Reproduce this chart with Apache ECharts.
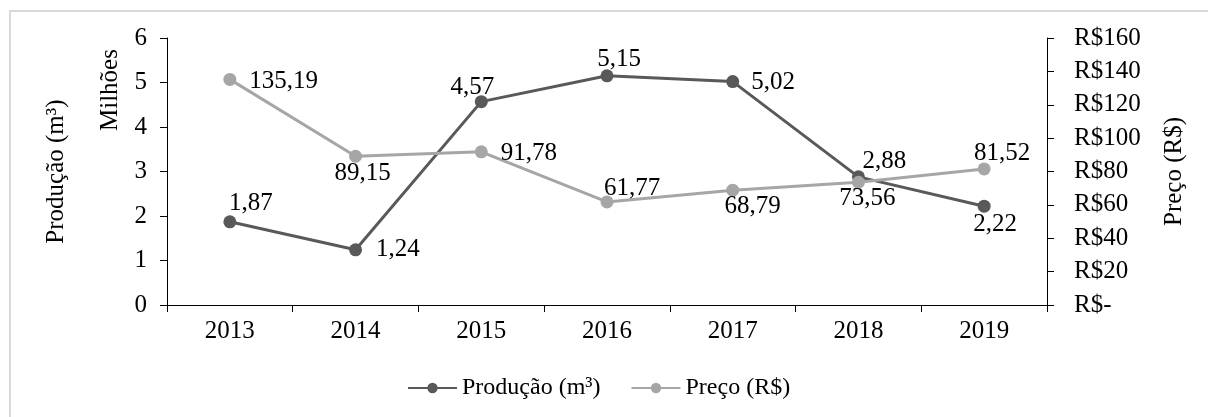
<!DOCTYPE html>
<html>
<head>
<meta charset="utf-8">
<script src="https://cdn.jsdelivr.net/npm/echarts@6/dist/echarts.min.js"></script>
<style>
  html, body { margin: 0; padding: 0; background: #fff; }
  #chart { width: 1208px; height: 417px; }
</style>
</head>
<body>
<div id="chart"></div>
<script>
// dados
var anos = ['2013', '2014', '2015', '2016', '2017', '2018', '2019']
var producao = [1.87, 1.24, 4.57, 5.15, 5.02, 2.88, 2.22] // milhões de m³
var preco = [135.19, 89.15, 91.78, 61.77, 68.79, 73.56, 81.52] // R$

// posição e deslocamento dos rótulos de cada ponto
var posProducao = ['top', 'right', 'top', 'top', 'right', 'top', 'bottom']
var despProducao = [[21, 1], [14, 0], [-9, 5], [12, 3], [12, 1], [26, 4], [11, -1]]
var posPreco = ['right', 'bottom', 'right', 'top', 'bottom', 'bottom', 'top']
var despPreco = [[13, 2], [7, -2], [13, 2], [25, 6], [20, -3], [9, -3], [18, 3]]

var fonte = '"Liberation Serif", "Times New Roman", serif'
var tam = 25
var corProducao = '#595959'
var corPreco = '#a6a6a6'

function virgula(v) {
  return v.toFixed(2).replace('.', ',')
}

function montaDados(vals, pos, desp) {
  return vals.map(function (v, i) {
    return {
      value: v,
      label: {
        position: pos[i],
        distance: 0,
        offset: desp[i],
      },
    }
  })
}

var myChart = echarts.init(document.getElementById('chart'))

var rotulo = {
  show: true,
  color: '#000',
  fontSize: tam,
  fontFamily: fonte,
  formatter: function (p) {
    return virgula(p.value)
  },
}

var option = {
  animation: false,
  textStyle: { fontFamily: fonte },
  grid: {
    left: 167,
    right: 161,
    top: 38,
    bottom: 112,
  },
  legend: {
    bottom: 12,
    left: 402,
    itemWidth: 49,
    itemHeight: 13,
    itemGap: 30,
    textStyle: {
      fontFamily: fonte,
      fontSize: 24,
      color: '#000',
    },
    data: ['Produção (m³)', 'Preço (R$)'],
  },
  xAxis: {
    type: 'category',
    data: anos,
    axisLine: { lineStyle: { color: '#000', width: 1 } },
    axisTick: { show: true, length: 7, lineStyle: { color: '#000' } },
    axisLabel: {
      color: '#000',
      fontSize: tam,
      fontFamily: fonte,
      margin: 14,
    },
  },
  yAxis: [
    {
      type: 'value',
      min: 0,
      max: 6,
      interval: 1,
      position: 'left',
      name: 'Produção (m³)',
      nameLocation: 'middle',
      nameGap: 98,
      nameTextStyle: { color: '#000', fontSize: tam, fontFamily: fonte },
      axisLine: { show: true, lineStyle: { color: '#000' } },
      axisTick: { show: true, length: 7, lineStyle: { color: '#000' } },
      axisLabel: { color: '#000', fontSize: tam, fontFamily: fonte, margin: 20 },
      splitLine: { show: false },
    },
    {
      type: 'value',
      min: 0,
      max: 160,
      interval: 20,
      position: 'right',
      name: 'Preço (R$)',
      nameLocation: 'middle',
      nameGap: 115,
      nameRotate: 90,
      nameTextStyle: { color: '#000', fontSize: tam, fontFamily: fonte },
      axisLine: { show: true, lineStyle: { color: '#000' } },
      axisTick: { show: true, length: 7, lineStyle: { color: '#000' } },
      axisLabel: {
        color: '#000',
        fontSize: tam,
        fontFamily: fonte,
        margin: 27,
        formatter: function (v) {
          return v === 0 ? 'R$-' : 'R$' + v
        },
      },
      splitLine: { show: false },
    },
  ],
  graphic: [
    {
      // moldura cinza
      type: 'rect',
      shape: { x: 10, y: 11, width: 1220, height: 430 },
      style: { fill: 'none', stroke: '#d9d9d9', lineWidth: 2 },
      silent: true,
    },
    {
      type: 'text',
      x: 110,
      y: 131,
      rotation: Math.PI / 2,
      style: {
        text: 'Milhões',
        font: tam + 'px ' + fonte,
        fill: '#000',
        align: 'left',
        verticalAlign: 'middle',
      },
    },
  ],
  series: [
    {
      name: 'Produção (m³)',
      type: 'line',
      yAxisIndex: 0,
      data: montaDados(producao, posProducao, despProducao),
      symbol: 'circle',
      symbolSize: 13,
      lineStyle: { color: corProducao, width: 3 },
      itemStyle: { color: corProducao },
      label: rotulo,
    },
    {
      name: 'Preço (R$)',
      type: 'line',
      yAxisIndex: 1,
      data: montaDados(preco, posPreco, despPreco),
      symbol: 'circle',
      symbolSize: 13,
      lineStyle: { color: corPreco, width: 3 },
      itemStyle: { color: corPreco },
      label: rotulo,
    },
  ],
}

myChart.setOption(option)
window.addEventListener('resize', function () {
  myChart.resize()
})
</script>
</body>
</html>
